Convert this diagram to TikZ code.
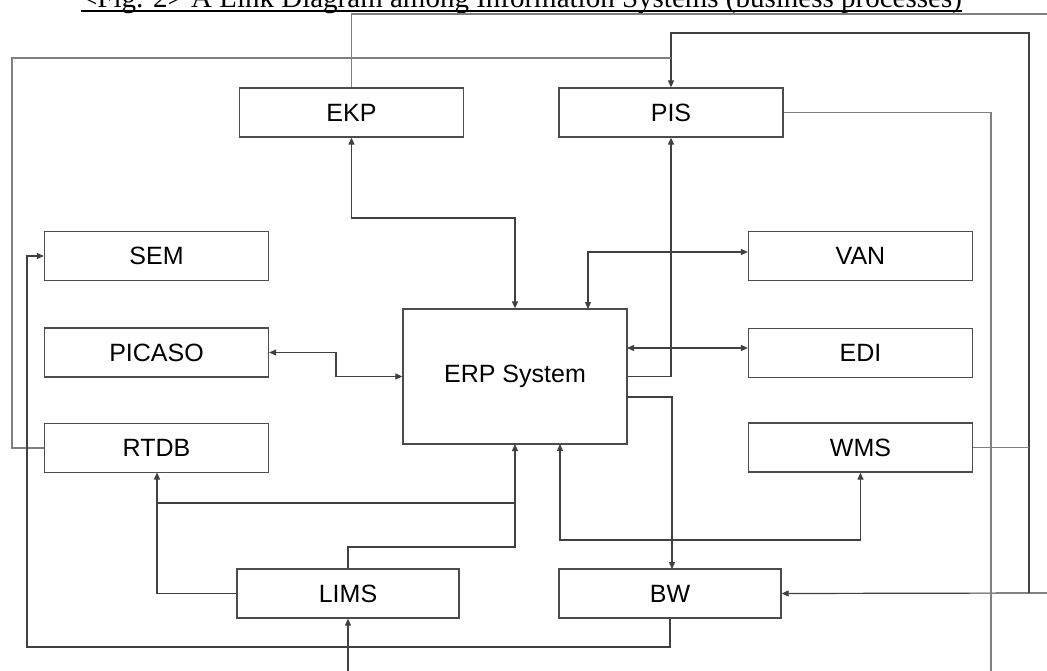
\documentclass[tikz,border=0pt]{standalone}
\usepackage{fontspec}
\setmainfont{Liberation Serif}
\newfontfamily\boxfont{Liberation Sans}
\usetikzlibrary{arrows.meta}
\begin{document}
\begin{tikzpicture}[x=1pt,y=-1pt,
  sysbox/.style={draw=black!70, line width=1.3pt, fill=white, minimum width=224pt, minimum height=49pt, inner sep=0pt, font=\boxfont\fontsize{25}{27}\selectfont},
  ln/.style={draw=black!75, line width=1.2pt},
  lng/.style={draw=black!50, line width=1.6pt},
  tip/.style={-{Triangle[length=7pt,width=6pt]}},
  tips/.style={{Triangle[length=7pt,width=6pt]}-{Triangle[length=7pt,width=6pt]}}
]
\clip (0,0) rectangle (1047,671);
\useasboundingbox (0,0) rectangle (1047,671);
\fill[white] (0,0) rectangle (1047,671);

% title
\node[anchor=base, inner sep=0pt, font=\fontsize{29}{32}\selectfont] (title) at (521.5,7.5)
  {<Fig. 2> A Link Diagram among Information Systems (business processes)};
\draw[line width=1.4pt] ([yshift=-3.5pt]title.base west) -- ([yshift=-3.5pt]title.base east);

% boxes
\node[sysbox] (EKP) at (351.5,112.5) {EKP};
\node[sysbox] (PIS) at (671,112.5) {PIS};
\node[sysbox] (SEM) at (156.5,256) {SEM};
\node[sysbox] (PICASO) at (156.5,352.5) {PICASO};
\node[sysbox] (RTDB) at (156.5,448) {RTDB};
\node[sysbox, minimum height=135pt] (ERP) at (515,376.5) {ERP System};
\node[sysbox] (VAN) at (860.5,256) {VAN};
\node[sysbox] (EDI) at (860.5,353) {EDI};
\node[sysbox] (WMS) at (860.5,447.5) {WMS};
\node[sysbox, minimum width=222pt] (LIMS) at (348,593.5) {LIMS};
\node[sysbox, minimum width=222pt] (BW) at (670,593.5) {BW};

% free ends and junctions
\coordinate (topR) at (1047,14);
\coordinate (rA) at (1029,33);
\coordinate (rB) at (1029,593);
\coordinate (bwR) at (1047,593);
\coordinate (leftTop) at (12,58);
\coordinate (pisBot) at (991,671);
\coordinate (limsIn) at (348,671);
\coordinate (jL) at (157,503);
\coordinate (jR) at (515,503);

% EKP <-> ERP
\draw[ln,tips] (EKP.south) -- (351.5,218) -- (515,218) -- (ERP.north);
% EKP top line
\draw[lng] (EKP.north) -- (351.5,14) -- (topR);
% right loop into PIS
\draw[ln,tip] (rB) -- (rA) -- (671,33) -- (PIS.north);
\draw[lng] (RTDB.west) -- (12,448) -- (leftTop) -- (671,58);
\draw[lng] (WMS.east) -- (1029,447.5);
\draw[ln,tip] (bwR) -- (BW.east);
% PIS right
\draw[lng] (PIS.east) -- (991,112.5) -- (pisBot);
% SEM
\draw[ln,tip] (BW.south) -- (670,647) -- (27,647) -- (27,256) -- (SEM.west);
% PICASO <-> ERP
\draw[ln,tips] (PICASO.east) -- (336,352.5) -- (336,376.5) -- (ERP.west);
% ERP -> PIS
\draw[ln,tip] (ERP.east) -- (671,376.5) -- (PIS.south);
% VAN <-> ERP
\draw[ln,tips] ([yshift=4pt]VAN.west) -- (588,252) -- (588,309);
% EDI <-> ERP
\draw[ln,tips] ([yshift=5pt]EDI.west) -- (627,348);
% ERP -> BW
\draw[ln,tip] (627,397) -- (672,397) -- (672,569);
% ERP <-> WMS
\draw[ln,tips] (560,444) -- (560,540) -- (860.5,540) -- (WMS.south);
% LIMS -> ERP, RTDB
\draw[ln,tip] (LIMS.north) -- (348,547) -- (515,547) -- (515,444);
\draw[ln,tip] (LIMS.west) -- (157,593.5) -- (157,472.5);
\draw[ln] (jL) -- (jR);
% into LIMS
\draw[ln,tip] (limsIn) -- (LIMS.south);
\end{tikzpicture}
\end{document}
